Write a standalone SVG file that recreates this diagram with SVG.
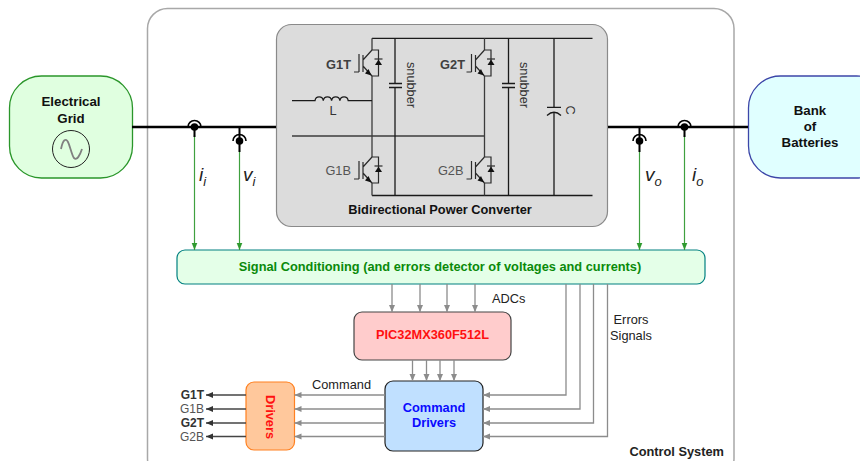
<svg xmlns="http://www.w3.org/2000/svg" width="860" height="461" viewBox="0 0 860 461">
<style>
text{font-family:"Liberation Sans",Arial,sans-serif;font-size:12.8px;fill:#222}
.b{font-weight:bold}
.m{text-anchor:middle}
.e{text-anchor:end}
.n{font-size:13.3px;fill:#111}
.g{font-size:12px}
.sym{fill:none;stroke:#2a2a2a;stroke-width:1.2}
.rail{fill:none;stroke:#1a1a1a;stroke-width:1.3}
.mid{fill:none;stroke:#3c3c3c;stroke-width:1.3}
.bus{fill:none;stroke:#000;stroke-width:2.4}
.stub{fill:none;stroke:#000;stroke-width:2}
.arc{fill:none;stroke:#000;stroke-width:1.6}
.sense{fill:none;stroke:#3fa03f;stroke-width:1.2;marker-end:url(#ag)}
.sig{fill:none;stroke:#8c8c8c;stroke-width:1.3;marker-end:url(#ah)}
.out{fill:none;stroke:#444;stroke-width:1.5;marker-end:url(#ak)}
.meas{font-style:italic;font-size:19px}
.sub{font-style:italic;font-size:13px}
</style>
<defs>
<marker id="ag" markerUnits="userSpaceOnUse" markerWidth="8" markerHeight="8" refX="7" refY="4" orient="auto"><path d="M0,1.2 L7,4 L0,6.8 Z" fill="#2f9a2f"/></marker>
<marker id="ah" markerUnits="userSpaceOnUse" markerWidth="8" markerHeight="8" refX="7" refY="4" orient="auto"><path d="M0,1 L7,4 L0,7 Z" fill="#8c8c8c"/></marker>
<marker id="ak" markerUnits="userSpaceOnUse" markerWidth="8" markerHeight="8" refX="7" refY="4" orient="auto"><path d="M0,1 L7,4 L0,7 Z" fill="#333"/></marker>
<g id="igbt">
<path class="sym" d="M0,12 L6.500,12 L6.500,38 L0,38"/>
<path class="sym" d="M-13,34 L-18,34 M-13,16 L-13,34 M-9,17 L-9,34 M-9,22 L0,12 M-9,28 L0,38"/>
<path d="M-0.500,37.500 L-7,35.500 L-3.500,31 Z" fill="#111"/>
<path d="M6.500,21.500 L3,27 L10,27 Z" fill="#111"/>
<path class="sym" d="M2.500,21 L10.500,21"/>
</g>
</defs>

<g id="control-system">
<rect x="147.500" y="8.500" width="586.500" height="470" rx="20" fill="#fff" stroke="#a8a8a8" stroke-width="1.500"/>
<text class="b e" x="724" y="456">Control System</text>
</g>

<g id="power-converter">
<rect x="276.500" y="24.500" width="331" height="202" rx="15" fill="#dcdcdc" stroke="#8a8a8a" stroke-width="1.200"/>
<path class="rail" d="M372,38.300 H592.500 M372,195.500 H592.500"/>
<path class="mid" d="M292,136 H484.500 M372,38.300 V50 M372,76 V157 M372,183 V195.500 M484.500,38.300 V50 M484.500,76 V157 M484.500,183 V195.500"/>
<path class="rail" d="M395,38.300 V83.500 M395,87.500 V195.500 M508.500,38.300 V83.500 M508.500,87.500 V195.500 M554,38.300 V107 M554,112 V195.500"/>
<path class="rail" d="M389,83.500 H402 M389,87.500 H402 M502,83.500 H515 M502,87.500 H515 M547,107.300 H561 M547,115.500 Q554,109 561,115.500"/>
<path class="rail" d="M292,100.700 H315 a4.200,4.500 0 0 1 8.300,0 a4.200,4.500 0 0 1 8.300,0 a4.200,4.500 0 0 1 8.300,0 a4.200,4.500 0 0 1 8.300,0 H372"/>
<use href="#igbt" x="372" y="38"/>
<use href="#igbt" x="372" y="145"/>
<use href="#igbt" x="484.500" y="38"/>
<use href="#igbt" x="484.500" y="145"/>
<text class="b e" x="351" y="69" style="fill:#404040">G1T</text>
<text class="e" x="351" y="175" style="fill:#555">G1B</text>
<text class="b e" x="465" y="69" style="fill:#404040">G2T</text>
<text class="e" x="463.500" y="175" style="fill:#555">G2B</text>
<text class="m" x="333" y="115" style="fill:#333">L</text>
<text class="m" transform="translate(406.500,85) rotate(90)" style="fill:#333">snubber</text>
<text class="m" transform="translate(519.500,85) rotate(90)" style="fill:#333">snubber</text>
<text class="m" transform="translate(566,110) rotate(90)" style="fill:#333">C</text>
<text class="b m" x="440" y="214" style="fill:#111">Bidirectional Power Converter</text>
</g>

<g id="electrical-grid">
<rect x="9.500" y="76" width="123" height="102" rx="32" fill="#e0ffe0" stroke="#2a962a" stroke-width="1.300"/>
<text class="b m n" x="71" y="106">Electrical</text>
<text class="b m n" x="71" y="123">Grid</text>
<circle cx="71" cy="149" r="18.500" fill="#e0ffe0" stroke="#222" stroke-width="1"/>
<path d="M61,149 C63,139 66,138 68,142 C70,146 72,156 74,158 C77,161 80,155 82,149" fill="none" stroke="#808080" stroke-width="1.800"/>
</g>

<g id="bank-of-batteries">
<rect x="748.500" y="76" width="140" height="102" rx="32" fill="#e0ffff" stroke="#3c46a8" stroke-width="1.300"/>
<text class="b m n" x="810" y="115">Bank</text>
<text class="b m n" x="810" y="131">of</text>
<text class="b m n" x="810" y="147">Batteries</text>
</g>

<g id="signal-conditioning">
<rect x="177" y="250" width="528" height="34" rx="8" fill="#e4ffe8" stroke="#008080" stroke-width="1.200"/>
<text class="b m" x="440" y="271" style="fill:#0a8a0a">Signal Conditioning (and errors detector of voltages and currents)</text>
</g>

<g id="pic">
<rect x="354" y="312" width="157" height="48" rx="8" fill="#ffcccc" stroke="#444" stroke-width="1.200"/>
<text class="b m" x="432.500" y="339" style="fill:#ff1010">PIC32MX360F512L</text>
</g>

<g id="command-drivers">
<rect x="385" y="381" width="98" height="70" rx="8" fill="#c0e0ff" stroke="#222" stroke-width="1.200"/>
<text class="b m" x="434" y="412" style="fill:#0a0aff">Command</text>
<text class="b m" x="434" y="427" style="fill:#0a0aff">Drivers</text>
</g>

<g id="drivers">
<rect x="246" y="382" width="48.500" height="68" rx="8" fill="#ffc89c" stroke="#ff8020" stroke-width="1.200"/>
<text class="b m" transform="translate(266,417) rotate(90)" style="fill:#ff1010">Drivers</text>
</g>

<g id="connectors">
<path class="bus" d="M132,127 H276 M608,127 H748"/>
<path class="sense" d="M194.500,135 V250"/>
<path class="sense" d="M239.500,150 V250"/>
<path class="sense" d="M639.500,150 V250"/>
<path class="sense" d="M684.500,135 V250"/>
<path class="stub" d="M194.500,127 V137 M239.500,127 V152 M639.500,127 V152 M684.500,127 V137"/>
<circle cx="194.500" cy="127" r="3.800"/>
<circle cx="239.500" cy="141" r="3.800"/>
<circle cx="639.500" cy="141" r="3.800"/>
<circle cx="684.500" cy="127" r="3.800"/>
<path class="arc" d="M188,127 A6.500,6.500 0 0 1 201,127 M233,141 A6.500,6.500 0 0 1 246,141 M633,141 A6.500,6.500 0 0 1 646,141 M678,127 A6.500,6.500 0 0 1 691,127"/>
<path class="sig" d="M392,284 V312"/>
<path class="sig" d="M420,284 V312"/>
<path class="sig" d="M447,284 V312"/>
<path class="sig" d="M475,284 V312"/>
<path class="sig" d="M412.500,360 V381"/>
<path class="sig" d="M426.500,360 V381"/>
<path class="sig" d="M440,360 V381"/>
<path class="sig" d="M454,360 V381"/>
<path class="sig" d="M566,284 V395 H483"/>
<path class="sig" d="M580,284 V409 H483"/>
<path class="sig" d="M593.500,284 V423 H483"/>
<path class="sig" d="M607.500,284 V436.500 H483"/>
<path class="sig" d="M385,395 H294.500"/>
<path class="sig" d="M385,409 H294.500"/>
<path class="sig" d="M385,423 H294.500"/>
<path class="sig" d="M385,436.500 H294.500"/>
<path class="out" d="M246,395 H206"/>
<path class="out" d="M246,409 H206"/>
<path class="out" d="M246,423 H206"/>
<path class="out" d="M246,436.500 H206"/>
</g>

<g id="labels">
<text class="meas" x="199" y="181">i<tspan class="sub" dy="5">i</tspan></text>
<text class="meas" x="243" y="181">v<tspan class="sub" dy="5">i</tspan></text>
<text class="meas" x="645" y="181">v<tspan class="sub" dy="5">o</tspan></text>
<text class="meas" x="692" y="181">i<tspan class="sub" dy="5">o</tspan></text>
<text x="492" y="303">ADCs</text>
<text class="m" x="631" y="324">Errors</text>
<text class="m" x="631" y="340">Signals</text>
<text x="312" y="389">Command</text>
<text class="b e g" x="204" y="399" style="fill:#333">G1T</text>
<text class="e g" x="204" y="413" style="fill:#555">G1B</text>
<text class="b e g" x="204" y="427" style="fill:#333">G2T</text>
<text class="e g" x="204" y="441" style="fill:#555">G2B</text>
</g>
</svg>
